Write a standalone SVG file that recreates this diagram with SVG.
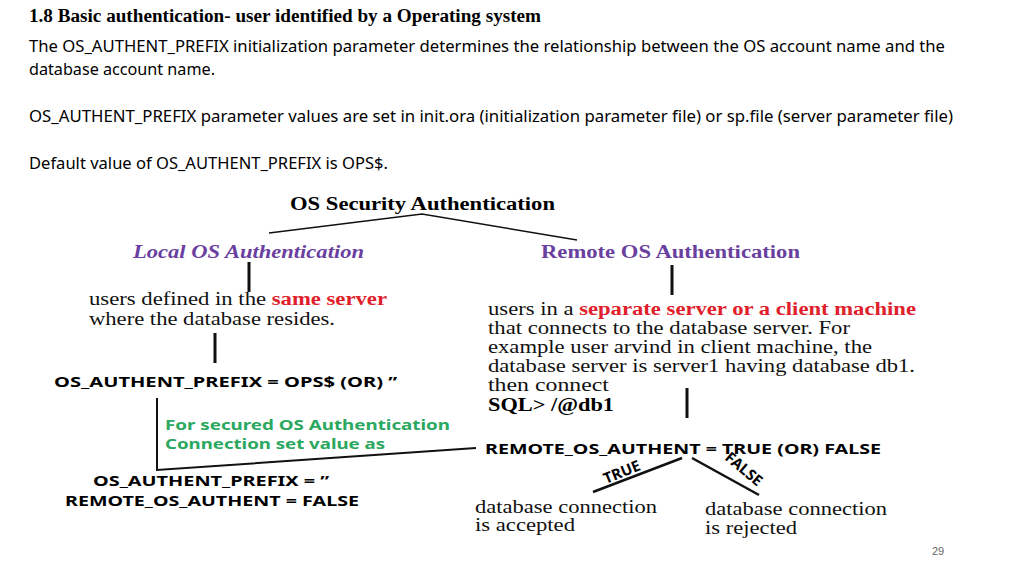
<svg xmlns="http://www.w3.org/2000/svg" width="1024" height="576" viewBox="0 0 1024 576">
<style>
.h{font-family:"Liberation Serif",serif;font-weight:bold;font-size:18px}
.b{font-family:"Noto Sans","Liberation Sans",sans-serif;font-size:16px;fill:#000}
.s{font-family:"Liberation Serif",serif;font-size:18px;fill:#111}
.sb{font-family:"Liberation Serif",serif;font-size:18px;font-weight:bold}
.k{font-family:"Noto Sans","Liberation Sans",sans-serif;font-size:15px;font-weight:bold}
.p{fill:#6a3fa0;font-family:"Liberation Serif",serif;font-weight:bold;font-size:18px}
.r{fill:#e0202a;font-weight:bold}
.g{fill:#2aa860;font-family:"Noto Sans","Liberation Sans",sans-serif;font-size:15px;font-weight:bold}
.l{stroke:#111;fill:none}
</style>
<rect width="1024" height="576" fill="#fff"/>
<text class="h" x="29" y="22" textLength="512" lengthAdjust="spacingAndGlyphs">1.8 Basic authentication- user identified by a Operating system</text>
<text class="b" x="29" y="52" textLength="916" lengthAdjust="spacingAndGlyphs">The OS_AUTHENT_PREFIX initialization parameter determines the relationship between the OS account name and the</text>
<text class="b" x="29" y="75" textLength="186" lengthAdjust="spacingAndGlyphs">database account name.</text>
<text class="b" x="29" y="122" textLength="924" lengthAdjust="spacingAndGlyphs">OS_AUTHENT_PREFIX parameter values are set in init.ora (initialization parameter file) or sp.file (server parameter file)</text>
<text class="b" x="29" y="169" textLength="359" lengthAdjust="spacingAndGlyphs">Default value of OS_AUTHENT_PREFIX is OPS$.</text>
<g id="connectors">
<path class="l" stroke-width="1.5" d="M269,233 L422,214 L577,240"/>
<path class="l" stroke-width="3" d="M249,262 V292 M215,333 V363 M672,265 V295 M687,388 V418"/>
<path class="l" stroke-width="2" d="M157,398 V470 L476,448"/>
<path class="l" stroke-width="2.5" d="M593,492 L682,458 M692,458 L759,495"/>
</g>
<g id="root"><text class="sb" x="290" y="210" textLength="265" lengthAdjust="spacingAndGlyphs">OS Security Authentication</text></g>
<g id="local"><text class="p" x="133" y="258" font-style="italic" textLength="231" lengthAdjust="spacingAndGlyphs">Local OS Authentication</text></g>
<g id="remote"><text class="p" x="541" y="258" textLength="259" lengthAdjust="spacingAndGlyphs">Remote OS Authentication</text></g>
<g id="localdesc"><text class="s" x="89" y="305" textLength="298" lengthAdjust="spacingAndGlyphs">users defined in the <tspan class="r">same server</tspan></text>
<text class="s" x="89" y="325" textLength="246" lengthAdjust="spacingAndGlyphs">where the database resides.</text></g>
<g id="prefix"><text class="k" x="54" y="387" textLength="343" lengthAdjust="spacingAndGlyphs">OS_AUTHENT_PREFIX = OPS$ (OR)  ’’</text></g>
<g id="secured"><text class="g" x="165" y="430" textLength="285" lengthAdjust="spacingAndGlyphs">For secured OS Authentication</text>
<text class="g" x="165" y="449" textLength="220" lengthAdjust="spacingAndGlyphs">Connection set value as</text></g>
<g id="securevals"><text class="k" x="93" y="486" textLength="236" lengthAdjust="spacingAndGlyphs">OS_AUTHENT_PREFIX = ’’</text>
<text class="k" x="65" y="506" textLength="294" lengthAdjust="spacingAndGlyphs">REMOTE_OS_AUTHENT = FALSE</text></g>
<g id="remotedesc">
<text class="s" x="488" y="315" textLength="428" lengthAdjust="spacingAndGlyphs">users in a <tspan class="r">separate server or a client machine</tspan></text>
<text class="s" x="488" y="334" textLength="362" lengthAdjust="spacingAndGlyphs">that connects to the database server. For</text>
<text class="s" x="488" y="353" textLength="384" lengthAdjust="spacingAndGlyphs">example user arvind in client machine, the</text>
<text class="s" x="488" y="372" textLength="427" lengthAdjust="spacingAndGlyphs">database server is server1 having database db1.</text>
<text class="s" x="488" y="391" textLength="121" lengthAdjust="spacingAndGlyphs">then connect</text>
<text class="sb" x="488" y="411" textLength="126" lengthAdjust="spacingAndGlyphs">SQL&gt; /@db1</text></g>
<g id="remoteauth"><text class="k" x="485" y="454" textLength="396" lengthAdjust="spacingAndGlyphs">REMOTE_OS_AUTHENT = TRUE (OR) FALSE</text></g>
<text class="k" font-size="14" transform="translate(606,484) rotate(-22)">TRUE</text>
<text class="k" font-size="14" transform="translate(724,459) rotate(40)">FALSE</text>
<g id="accepted"><text class="s" x="475" y="513" textLength="182" lengthAdjust="spacingAndGlyphs">database connection</text><text class="s" x="475" y="531" textLength="100" lengthAdjust="spacingAndGlyphs">is accepted</text></g>
<g id="rejected"><text class="s" x="705" y="515" textLength="182" lengthAdjust="spacingAndGlyphs">database connection</text><text class="s" x="705" y="534" textLength="92" lengthAdjust="spacingAndGlyphs">is rejected</text></g>
<text x="932" y="555" font-family="Liberation Sans,sans-serif" font-size="11" fill="#666">29</text>
</svg>
